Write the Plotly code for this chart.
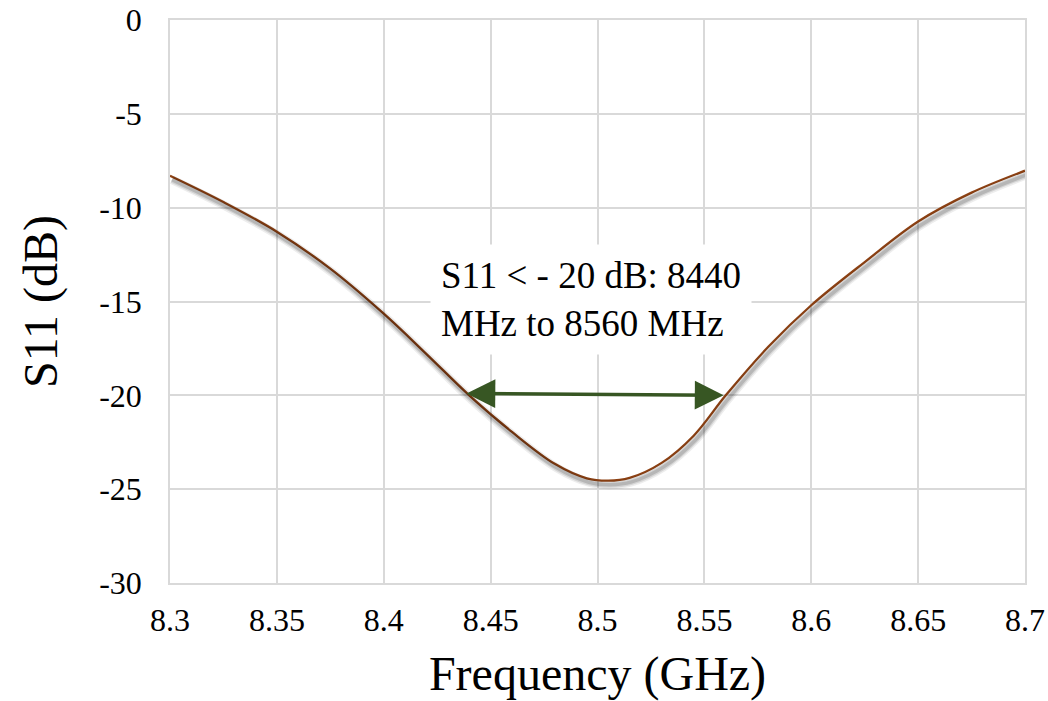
import plotly.graph_objects as go

# ---- data ----
freq_ghz = [8.300, 8.325, 8.350, 8.375, 8.400, 8.420, 8.440, 8.460, 8.480, 8.495,
            8.505, 8.515, 8.530, 8.545, 8.560, 8.580, 8.600, 8.625, 8.650, 8.675,
            8.700]
s11_db = [-8.30, -9.70, -11.28, -13.25, -15.65, -17.80, -20.00, -21.95, -23.65, -24.42,
          -24.55, -24.40, -23.60, -22.15, -20.00, -17.40, -15.20, -12.90, -10.74, -9.20,
          -8.03]

x_tick_vals = [8.30, 8.35, 8.40, 8.45, 8.50, 8.55, 8.60, 8.65, 8.70]
x_tick_text = ["8.3", "8.35", "8.4", "8.45", "8.5", "8.55", "8.6", "8.65", "8.7"]
y_tick_vals = [0, -5, -10, -15, -20, -25, -30]
y_tick_text = ["0", "-5", "-10", "-15", "-20", "-25", "-30"]

arrow_start = [8.438, -19.9]
arrow_end = [8.559, -20.0]
band_label = "S11 < - 20 dB: 8440<br>MHz to 8560 MHz"
band_label_pos = [8.497, -14.9]

X_RANGE = [8.3, 8.7]
Y_RANGE = [-30, 0]

# ---- layout geometry ----
W, H = 1048, 701
ML, MR, MT, MB = 170, 23, 20, 118
PW, PH = W - ML - MR, H - MT - MB

FONT = "Liberation Serif, Times New Roman, serif"
GRID = "#d9d9d9"
LINE = "#8E4214"

# shadow offset (in pixels) converted into axis-range shifts
sdx, sdy = 2.0, 4.0
xs = sdx * (X_RANGE[1] - X_RANGE[0]) / PW
ys = sdy * (Y_RANGE[1] - Y_RANGE[0]) / PH

fig = go.Figure()

# soft drop shadow drawn on an overlaid, slightly shifted axis pair
for w, a in [(9, 0.07), (6, 0.10), (3.5, 0.14)]:
    fig.add_trace(go.Scatter(
        x=freq_ghz, y=s11_db, mode="lines",
        line=dict(color=f"rgba(0,0,0,{a})", width=w, shape="spline", smoothing=1.0),
        xaxis="x2", yaxis="y2", hoverinfo="skip", showlegend=False))

fig.add_trace(go.Scatter(
    x=freq_ghz, y=s11_db, mode="lines", name="S11",
    line=dict(color=LINE, width=2.3, shape="spline", smoothing=1.0),
    showlegend=False))

fig.update_layout(
    width=W, height=H,
    margin=dict(l=ML, r=MR, t=MT, b=MB),
    paper_bgcolor="white", plot_bgcolor="white",
    font=dict(family=FONT, color="black"),
    xaxis=dict(
        range=X_RANGE, tickvals=x_tick_vals, ticktext=x_tick_text,
        showgrid=True, gridcolor=GRID, gridwidth=1.5,
        showline=True, linecolor=GRID, linewidth=1.5, mirror=True,
        zeroline=False, ticks="", ticklabelstandoff=8,
        tickfont=dict(size=32, family=FONT, color="black"),
        title=dict(text="Frequency (GHz)", font=dict(size=48, family=FONT, color="black"),
                   standoff=22),
        automargin=False,
    ),
    yaxis=dict(
        range=Y_RANGE, tickvals=y_tick_vals, ticktext=y_tick_text,
        showgrid=True, gridcolor=GRID, gridwidth=1.5,
        showline=True, linecolor=GRID, linewidth=1.5, mirror=True,
        zeroline=False, ticks="", ticklabelstandoff=20,
        tickfont=dict(size=32, family=FONT, color="black"),
        title=dict(text="S11 (dB)", font=dict(size=48, family=FONT, color="black"),
                   standoff=26),
        automargin=False,
    ),
    xaxis2=dict(range=[X_RANGE[0] - xs, X_RANGE[1] - xs], overlaying="x",
                visible=False, showgrid=False, zeroline=False),
    yaxis2=dict(range=[Y_RANGE[0] + ys, Y_RANGE[1] + ys], overlaying="y",
                visible=False, showgrid=False, zeroline=False),
)

# label box
fig.add_annotation(
    x=band_label_pos[0], y=band_label_pos[1], xref="x", yref="y",
    text=band_label, showarrow=False, align="left",
    xanchor="center", yanchor="middle",
    font=dict(size=37, family=FONT, color="black"),
    bgcolor="white", borderpad=10,
)

# double-headed arrow marking the -20 dB band
fig.add_annotation(
    x=arrow_end[0], y=arrow_end[1], ax=arrow_start[0], ay=arrow_start[1],
    xref="x", yref="y", axref="x", ayref="y",
    text="", showarrow=True, arrowside="end+start",
    arrowhead=2, arrowsize=1.6, arrowwidth=3.6, arrowcolor="#375623",
)

fig.write_html(
    "out.html",
    config={"displayModeBar": False},
    post_script="document.body.style.margin='0';document.body.style.overflow='hidden';",
)
